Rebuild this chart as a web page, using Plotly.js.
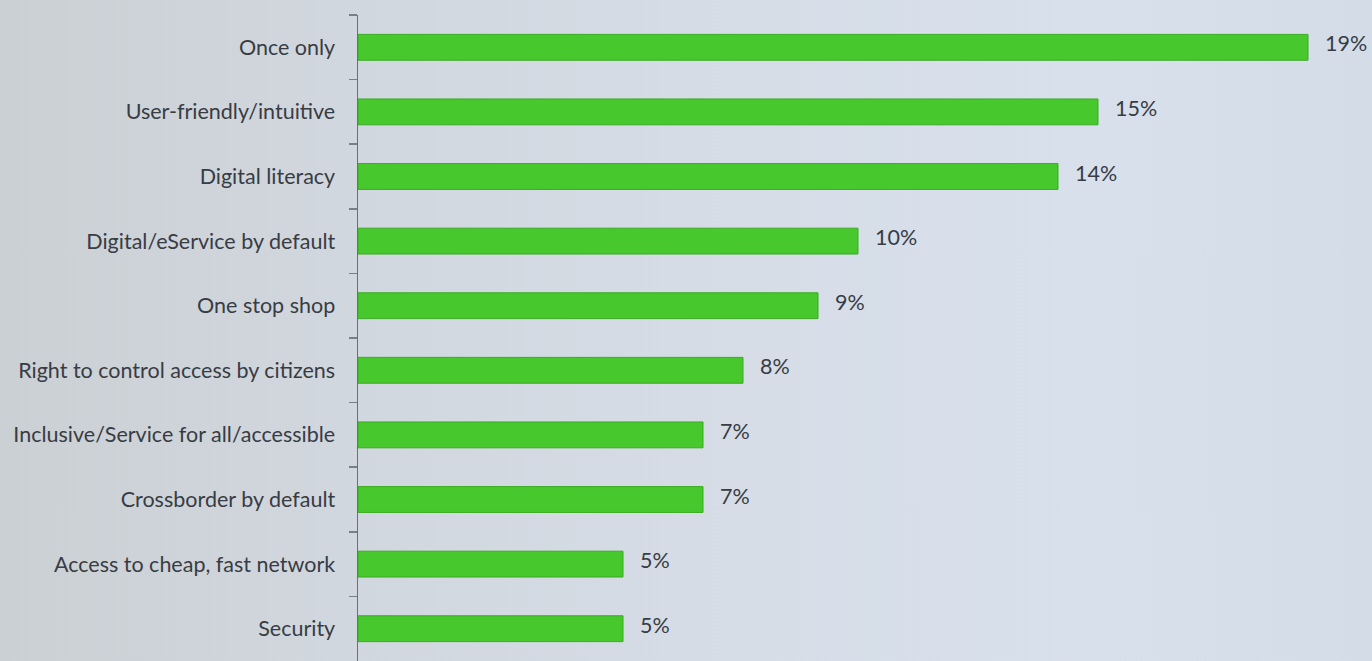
<!DOCTYPE html>
<html>
<head>
<meta charset="utf-8">
<script src="https://cdn.plot.ly/plotly-3.0.1.min.js"></script>
<style>
  html, body { margin: 0; padding: 0; }
  body {
    width: 1372px; height: 661px; overflow: hidden;
    background: linear-gradient(90deg, #cbd0d4 0%, #d1d7de 25%, #d6dde7 55%, #d8e0ec 80%, #d4dce8 100%);
  }
  #chart { width: 1372px; height: 661px; }
</style>
</head>
<body>
<div id="chart"></div>
<script>
// Data
const categories = [
  "Once only",
  "User-friendly/intuitive",
  "Digital literacy",
  "Digital/eService by default",
  "One stop shop",
  "Right to control access by citizens",
  "Inclusive/Service for all/accessible",
  "Crossborder by default",
  "Access to cheap, fast network",
  "Security"
];
const shares = [0.190, 0.148, 0.140, 0.100, 0.092, 0.077, 0.069, 0.069, 0.053, 0.053];
const shareLabels = ["19%", "15%", "14%", "10%", "9%", "8%", "7%", "7%", "5%", "5%"];

const labelFont = { family: "Lato, 'Open Sans', sans-serif", size: 21.5, color: "#383c44" };

const trace = {
  type: "bar",
  orientation: "h",
  y: categories,
  x: shares,
  marker: { color: "#47c82c", line: { color: "#3aab22", width: 1 } },
  hoverinfo: "skip"
};

const annotations = categories.map((c, i) => ({
  x: shares[i], y: c, xref: "x", yref: "y",
  text: shareLabels[i], showarrow: false,
  xanchor: "left", yanchor: "middle",
  xshift: 15, yshift: 4,
  font: labelFont
}));

const layout = {
  width: 1372, height: 661,
  margin: { l: 358, r: 14, t: 15, b: 0, pad: 0 },
  paper_bgcolor: "rgba(0,0,0,0)",
  plot_bgcolor: "rgba(0,0,0,0)",
  showlegend: false,
  bargap: 0.6,
  xaxis: {
    range: [0, 0.2],
    showgrid: false, zeroline: false, showline: false,
    showticklabels: false, ticks: ""
  },
  yaxis: {
    type: "category",
    range: [categories.length - 0.5, -0.5],
    showgrid: false, zeroline: false,
    showline: true, linecolor: "#6b6f76", linewidth: 1.5,
    ticks: "outside", tickson: "boundaries", ticklen: 8, tickwidth: 1.5, tickcolor: "#7a7e85",
    ticklabelstandoff: 17,
    tickfont: labelFont
  },
  annotations: annotations
};

Plotly.newPlot("chart", [trace], layout, { displayModeBar: false, staticPlot: true });
</script>
</body>
</html>
